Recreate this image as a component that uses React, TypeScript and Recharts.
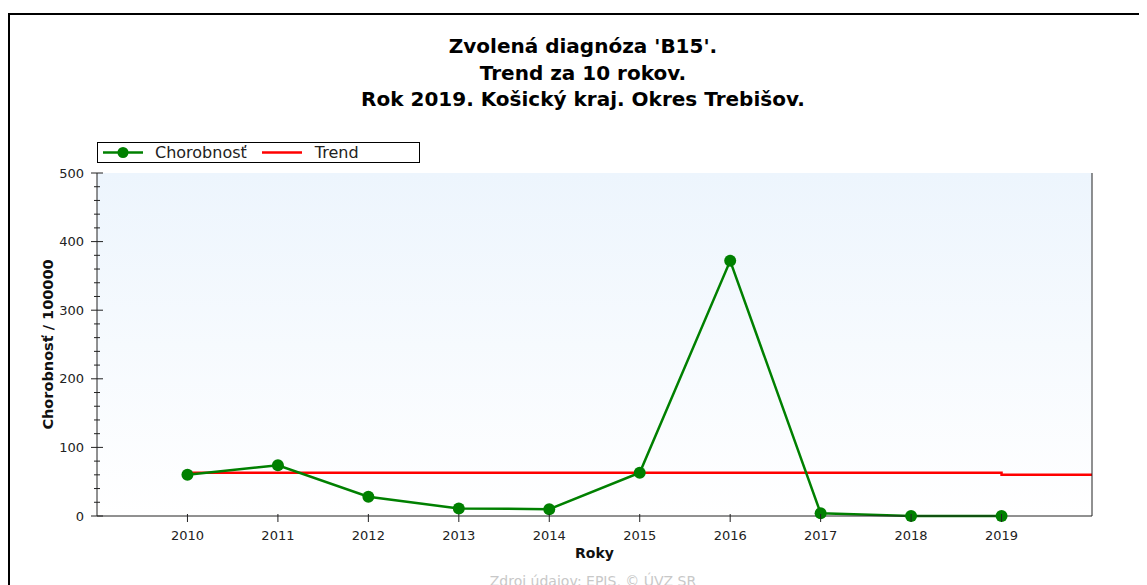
import { LineChart, Line, XAxis, YAxis } from "recharts";

const years = [2010, 2011, 2012, 2013, 2014, 2015, 2016, 2017, 2018, 2019];
const chorobnost = [60, 74, 28, 11, 10, 63, 372, 4, 0, 0];
const trendYears = [2010, 2019, 2019, 2020];
const trendValues = [63, 63, 60, 60];
const yTicks = [0, 20, 40, 60, 80, 100, 120, 140, 160, 180, 200, 220, 240, 260, 280, 300, 320, 340, 360, 380, 400, 420, 440, 460, 480, 500];

const titleLines = [
  "Zvolená diagnóza 'B15'.",
  "Trend za 10 rokov.",
  "Rok 2019. Košický kraj. Okres Trebišov.",
];

const mainData = years.map((y, i) => ({ year: y, value: chorobnost[i] }));
const trendData = trendYears.map((y, i) => ({ year: y, trend: trendValues[i] }));

const FONT = "'DejaVu Sans', Verdana, sans-serif";

function LeftTick(props: any) {
  const { x, y, payload } = props;
  const major = payload.value % 100 === 0;
  const len = major ? 6 : 3;
  return (
    <g>
      <line x1={x - len} x2={x + len} y1={y} y2={y} stroke="#222" strokeWidth={1} />
      {major && (
        <text x={x - 13} y={y} textAnchor="end" dominantBaseline="central" fontSize={13} fill="#222" fontFamily={FONT}>
          {payload.value}
        </text>
      )}
    </g>
  );
}

function RightTick(props: any) {
  const { x, y, payload } = props;
  const major = payload.value % 100 === 0;
  const len = major ? 6 : 3;
  return (
    <g>
      <line x1={x - len} x2={x + len} y1={y} y2={y} stroke="#222" strokeWidth={1} />
      {major && (
        <text x={x + 13} y={y} textAnchor="start" dominantBaseline="central" fontSize={13} fill="#222" fontFamily={FONT}>
          {payload.value}
        </text>
      )}
    </g>
  );
}

function BottomTick(props: any) {
  const { x, y, payload } = props;
  return (
    <g>
      <line x1={x} x2={x} y1={y - 2} y2={y + 6} stroke="#222" strokeWidth={1} />
      <text x={x} y={y + 19} textAnchor="middle" dominantBaseline="central" fontSize={13} fill="#222" fontFamily={FONT}>
        {payload.value}
      </text>
    </g>
  );
}

function TopTick(props: any) {
  const { x, y } = props;
  return <line x1={x} x2={x} y1={y} y2={y + 6} stroke="#444" strokeWidth={1} />;
}

export default function App() {
  return (
    <div style={{ position: "relative", width: 1139, height: 577, fontFamily: FONT }}>
      <div
        style={{
          position: "absolute",
          left: 0,
          top: 5,
          width: 1145,
          height: 600,
          borderTop: "2px solid #000",
          borderLeft: "2px solid #000",
          boxSizing: "border-box",
        }}
      />
      <div style={{ position: "absolute", left: 0, top: 0 }}>
        <LineChart width={1139} height={577} margin={{ top: 165, right: 0, bottom: 0, left: 0 }}>
          <defs>
            <linearGradient id="bg" x1="0" y1="0" x2="0" y2="1">
              <stop offset="0%" stopColor="#edf5fd" />
              <stop offset="100%" stopColor="#ffffff" />
            </linearGradient>
          </defs>
          <rect x={89} y={165} width={995} height={343} fill="url(#bg)" />
          <XAxis
            xAxisId="bottom"
            dataKey="year"
            type="number"
            domain={[2009, 2020]}
            ticks={years}
            allowDuplicatedCategory
            height={69}
            stroke="#222"
            tickSize={0}
            tickMargin={0}
            tickLine={false}
            tick={<BottomTick />}
            interval={0}
            label={{ value: "Roky", position: "insideTop", offset: 32, fontSize: 14, fontWeight: "bold", fill: "#111", fontFamily: FONT }}
          />
          <XAxis
            xAxisId="top"
            orientation="top"
            dataKey="year"
            type="number"
            domain={[2009, 2020]}
            ticks={years}
            height={0}
            stroke="#555"
            tickSize={0}
            tickMargin={0}
            tickLine={false}
            tick={<TopTick />}
            interval={0}
          />
          <YAxis
            yAxisId="left"
            domain={[0, 500]}
            ticks={yTicks}
            width={89}
            stroke="#222"
            tickSize={0}
            tickMargin={0}
            tickLine={false}
            tick={<LeftTick />}
            interval={0}
            label={{
              value: "Chorobnosť / 100000",
              angle: -90,
              position: "insideLeft",
              offset: 35,
              dx: 5,
              fontSize: 14.5,
              fontWeight: "bold",
              fill: "#111",
              fontFamily: FONT,
              style: { textAnchor: "middle" },
            }}
          />
          <YAxis
            yAxisId="right"
            orientation="right"
            domain={[0, 500]}
            ticks={yTicks}
            width={55}
            stroke="#222"
            tickSize={0}
            tickMargin={0}
            tickLine={false}
            tick={<RightTick />}
            interval={0}
          />
          <Line
            xAxisId="bottom"
            yAxisId="left"
            data={trendData}
            dataKey="trend"
            type="linear"
            stroke="#ff0000"
            strokeWidth={2.5}
            dot={false}
            isAnimationActive={false}
          />
          <Line
            xAxisId="bottom"
            yAxisId="left"
            data={mainData}
            dataKey="value"
            type="linear"
            stroke="#008000"
            strokeWidth={2.5}
            dot={{ r: 6, fill: "#008000", stroke: "#008000", strokeWidth: 0 }}
            isAnimationActive={false}
          />
        </LineChart>
      </div>
      <div style={{ position: "absolute", left: 0, width: 1150, top: 25, textAlign: "center", fontSize: 20, fontWeight: "bold", lineHeight: "26.5px", color: "#000" }}>
        {titleLines.map((t) => (
          <div key={t}>{t}</div>
        ))}
      </div>
      <div
        style={{
          position: "absolute",
          left: 89,
          top: 134,
          width: 323,
          height: 21,
          border: "1px solid #000",
          boxSizing: "border-box",
          display: "flex",
          alignItems: "center",
          fontSize: 16,
          color: "#222",
          background: "#fff",
        }}
      >
        <svg width={50} height={19} style={{ marginLeft: 5 }}>
          <line x1={0} x2={40} y1={9.5} y2={9.5} stroke="#008000" strokeWidth={2.5} />
          <circle cx={20} cy={9.5} r={5.5} fill="#008000" />
        </svg>
        <span style={{ marginLeft: 2 }}>Chorobnosť</span>
        <svg width={42} height={19} style={{ marginLeft: 15 }}>
          <line x1={0} x2={40} y1={9.5} y2={9.5} stroke="#ff0000" strokeWidth={2.5} />
        </svg>
        <span style={{ marginLeft: 11 }}>Trend</span>
      </div>
      <div style={{ position: "absolute", left: 0, width: 1170, top: 565, textAlign: "center", fontSize: 14, color: "#c8c8c8" }}>
        Zdroj údajov: EPIS, © ÚVZ SR
      </div>
    </div>
  );
}
